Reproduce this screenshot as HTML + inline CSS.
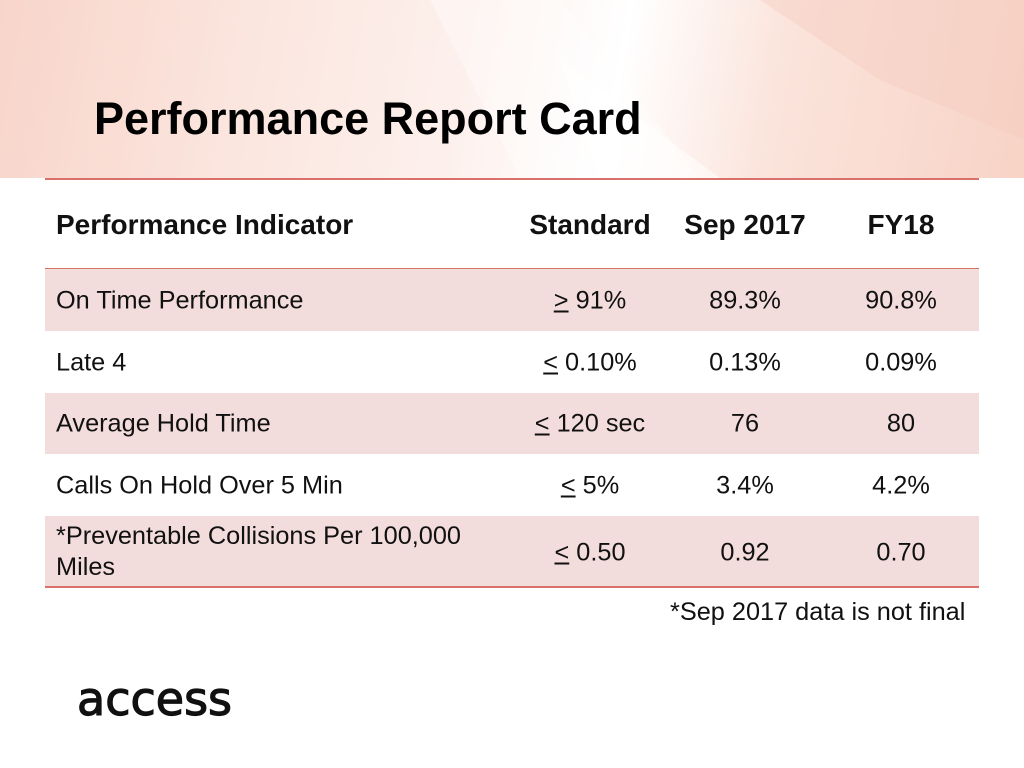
<!DOCTYPE html>
<html><head><meta charset="utf-8"><style>
body{margin:0;width:1024px;height:768px;overflow:hidden;background:#fff;font-family:"Liberation Sans",Arial,sans-serif;position:relative}
.banner{position:absolute;left:0;top:0;width:1024px;height:178px;background:linear-gradient(100deg,#f8d5ca 0%,#fbe6df 25%,#fdf0ec 45%,#fff 60%,#fbe4dc 75%,#f8d3c6 100%);overflow:hidden}
h1{position:absolute;left:94px;top:93px;margin:0;font-size:45px;font-weight:bold;letter-spacing:0;color:#000}
.row{position:absolute;left:45px;width:934px;font-size:25.3px;color:#111}
.row span{position:absolute;transform:translateY(-50%);white-space:nowrap}
.c{transform:translate(-50%,-50%)!important}
.pink{background:#f3dcdc}
.line{position:absolute;left:45px;width:934px;height:2px;background:#d9706a}
</style></head><body>
<div class="banner">
<svg width="1024" height="178" style="position:absolute;left:0;top:0">
<polygon points="430,0 560,0 700,178 520,178" fill="#fff" opacity="0.35"/>
<polygon points="560,60 720,178 600,178" fill="#fff" opacity="0.5"/>
<polygon points="760,0 1024,0 1024,140 880,80" fill="#f6cbbd" opacity="0.4"/>
</svg>
<h1>Performance Report Card</h1>
</div>
<div class="line" style="top:178px"></div>
<div class="row" style="top:180px;height:89px;font-weight:bold;font-size:28px">
<span style="left:11px;top:45px">Performance Indicator</span>
<span class="c" style="left:545px;top:45px">Standard</span>
<span class="c" style="left:700px;top:45px">Sep 2017</span>
<span class="c" style="left:856px;top:45px">FY18</span>
</div>
<div class="line" style="top:268px;height:1px"></div>
<div class="row pink" style="top:269px;height:62px">
<span style="left:11px;top:32px">On Time Performance</span>
<span class="c" style="left:545px;top:32px"><u>&gt;</u> 91%</span>
<span class="c" style="left:700px;top:32px">89.3%</span>
<span class="c" style="left:856px;top:32px">90.8%</span>
</div>
<div class="row" style="top:331px;height:62px">
<span style="left:11px;top:32px">Late 4</span>
<span class="c" style="left:545px;top:32px"><u>&lt;</u> 0.10%</span>
<span class="c" style="left:700px;top:32px">0.13%</span>
<span class="c" style="left:856px;top:32px">0.09%</span>
</div>
<div class="row pink" style="top:393px;height:61px">
<span style="left:11px;top:31px">Average Hold Time</span>
<span class="c" style="left:545px;top:31px"><u>&lt;</u> 120 sec</span>
<span class="c" style="left:700px;top:31px">76</span>
<span class="c" style="left:856px;top:31px">80</span>
</div>
<div class="row" style="top:454px;height:62px">
<span style="left:11px;top:32px">Calls On Hold Over 5 Min</span>
<span class="c" style="left:545px;top:32px"><u>&lt;</u> 5%</span>
<span class="c" style="left:700px;top:32px">3.4%</span>
<span class="c" style="left:856px;top:32px">4.2%</span>
</div>
<div class="row pink" style="top:516px;height:70px">
<span style="left:11px;top:36px;line-height:31px">*Preventable Collisions Per 100,000<br>Miles</span>
<span class="c" style="left:545px;top:37px"><u>&lt;</u> 0.50</span>
<span class="c" style="left:700px;top:37px">0.92</span>
<span class="c" style="left:856px;top:37px">0.70</span>
</div>
<div class="line" style="top:586px"></div>
<div style="position:absolute;left:670px;top:598px;font-size:25.3px;color:#111;white-space:nowrap">*Sep 2017 data is not final</div>
<div style="position:absolute;left:77px;top:672px;font-size:46px;font-weight:normal;-webkit-text-stroke:1.2px #111;color:#111;font-family:'DejaVu Sans','Liberation Sans',sans-serif">access</div>
</body></html>
